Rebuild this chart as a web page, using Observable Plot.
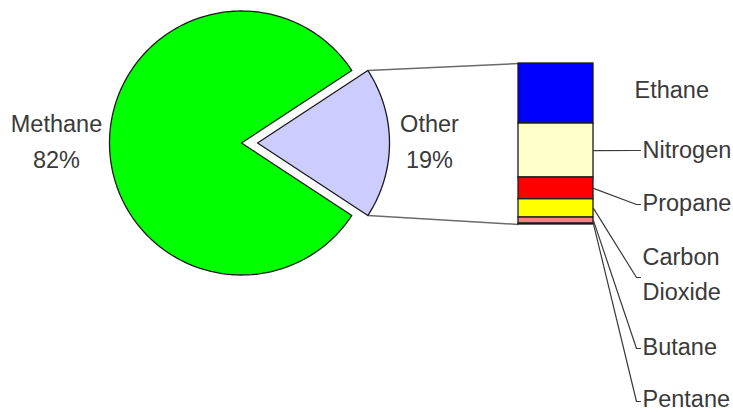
<!DOCTYPE html>
<html>
<head>
<meta charset="utf-8">
<script src="https://cdn.jsdelivr.net/npm/d3@7"></script>
<script src="https://cdn.jsdelivr.net/npm/@observablehq/plot@0.6"></script>
<style>
  html, body { margin: 0; padding: 0; background: #fff; }
  #chart { width: 733px; height: 412px; }
</style>
</head>
<body>
<div id="chart"></div>
<script>
// ---- data ----
const pieCategories = ["Methane", "Other"];
const pieColors = ["#00ff00", "#ccccff"];
const methaneShare = 81.5;
const otherParts = ["Ethane", "Nitrogen", "Propane", "Carbon\nDioxide", "Butane", "Pentane"];
const otherValues = [6.9, 6.2, 2.5, 2.1, 0.7, 0.1];
const otherColors = ["#0000ff", "#ffffcc", "#ff0000", "#ffff00", "#ff8080", "#cc99ff"];
// label layout (pixel y of each bar label)
const otherLabelY = [86, 146, 199, 271, 343, 395];
const otherLeaderY = [90, 150, 204, 277, 348, 401];
const otherHasLeader = [false, true, true, true, true, true];

// ---- layout ----
const W = 733, H = 412;
const cx = 241, cy = 142.5, R = 132, explode = 16;
const barX1 = 518, barX2 = 593, barTop = 63, barH = 161;
const labelX = 641;
const textColor = "#3a3a3a";
const fontSize = 23.5;

const otherShare = d3.sum(otherValues);
const pieData = pieCategories.map((name, i) => ({
  name, value: i === 0 ? methaneShare : otherShare, color: pieColors[i]
}));
const total = d3.sum(pieData, d => d.value);
const thetaM = 2 * Math.PI * pieData[0].value / total;
const thetaO = 2 * Math.PI * pieData[1].value / total;
const start = Math.PI / 2 - thetaM - thetaO / 2;
const arcs = d3.pie().sort(null).value(d => d.value).startAngle(start).endAngle(start + 2 * Math.PI)(pieData);

const pt = (a, r, ox, oy) => ({x: ox + r * Math.sin(a), y: oy - r * Math.cos(a)});

const polys = [];
arcs.forEach((a, i) => {
  const mid = (a.startAngle + a.endAngle) / 2;
  const off = i === 1 ? explode : 0;
  const ox = cx + off * Math.sin(mid), oy = cy - off * Math.cos(mid);
  a.ox = ox; a.oy = oy;
  polys.push({name: a.data.name, color: a.data.color, x: ox, y: oy});
  const n = 180;
  for (let k = 0; k <= n; k++) {
    const ang = a.startAngle + (a.endAngle - a.startAngle) * k / n;
    const p = pt(ang, R, ox, oy);
    polys.push({name: a.data.name, color: a.data.color, x: p.x, y: p.y});
  }
});

// bar segments
const scaleK = barH / otherShare;
let cum = 0;
const barData = otherParts.map((name, i) => {
  const y1 = barTop + cum * scaleK;
  cum += otherValues[i];
  const y2 = barTop + cum * scaleK;
  return {name, color: otherColors[i], y1, y2, mid: (y1 + y2) / 2};
});

// connectors from exploded slice to bar
const oa = arcs[1];
const cTop = pt(oa.startAngle, R, oa.ox, oa.oy);
const cBot = pt(oa.endAngle, R, oa.ox, oa.oy);
const connectors = [
  {x1: cTop.x, y1: cTop.y, x2: barX1, y2: barTop},
  {x1: cBot.x, y1: cBot.y, x2: barX1, y2: barTop + barH}
];

// leaders
const leaders = [];
barData.forEach((d, i) => {
  if (!otherHasLeader[i]) return;
  leaders.push({name: d.name, x: barX2, y: d.mid});
  leaders.push({name: d.name, x: labelX - 5, y: otherLeaderY[i]});
  leaders.push({name: d.name, x: labelX - 1, y: otherLeaderY[i]});
});
const barLabels = barData.map((d, i) => ({
  text: d.name, x: i === 0 ? labelX - 7 : labelX + 1, y: otherLabelY[i]
}));

const pieLabels = [
  {text: `${pieCategories[0]}\n${Math.round(pieData[0].value / total * 100)}%`, x: 56, y: 138},
  {text: `${pieCategories[1]}\n${Math.round(pieData[1].value / total * 100)}%`, x: 429, y: 138}
];

const chart = Plot.plot({
  width: W, height: H,
  margin: 0,
  x: {domain: [0, W], range: [0, W], axis: null},
  y: {domain: [0, H], range: [0, H], axis: null},
  color: {type: "identity"},
  style: {fontFamily: "'Liberation Sans', Arial, sans-serif", background: "#fff"},
  marks: [
    Plot.link(connectors, {x1: "x1", y1: "y1", x2: "x2", y2: "y2", stroke: "#6a6a6a", strokeWidth: 1.5}),
    Plot.line(polys, {x: "x", y: "y", z: "name", fill: "color", stroke: "#1a1a1a", strokeWidth: 1.3, curve: "linear-closed"}),
    Plot.rect(barData, {x1: barX1, x2: barX2, y1: "y1", y2: "y2", fill: "color", stroke: "#1a1a1a", strokeWidth: 1.3}),
    Plot.line(leaders, {x: "x", y: "y", z: "name", stroke: "#3a3a3a", strokeWidth: 1.2}),
    Plot.text(barLabels, {x: "x", y: "y", text: "text", textAnchor: "start", lineAnchor: "middle", lineHeight: 1.5, fontSize, fill: textColor}),
    Plot.text(pieLabels, {x: "x", y: "y", text: "text", textAnchor: "middle", lineAnchor: "middle", lineHeight: 1.55, fontSize, fill: textColor})
  ]
});
document.getElementById("chart").appendChild(chart);
</script>
</body>
</html>
